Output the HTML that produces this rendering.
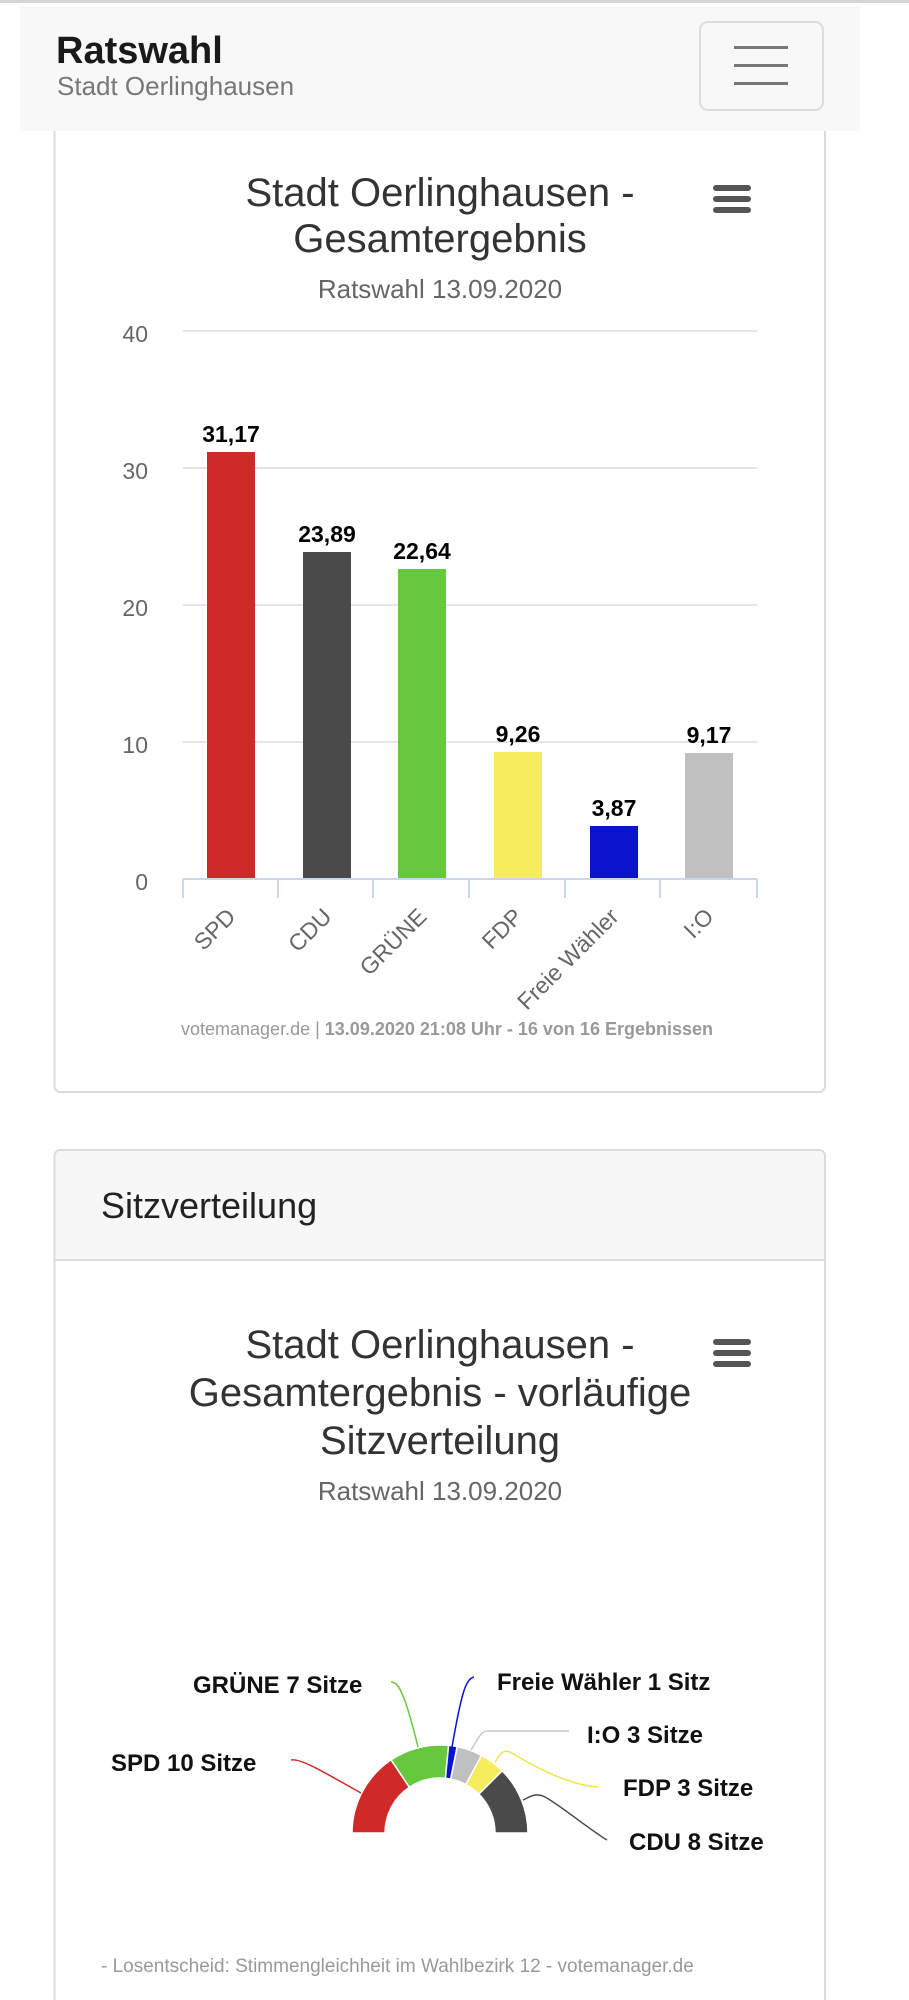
<!DOCTYPE html>
<html><head><meta charset="utf-8"><style>
html,body{margin:0;padding:0;background:#fff;width:909px;height:2000px;overflow:hidden}
svg{display:block;font-family:"Liberation Sans",Arial,sans-serif}
</style></head><body>
<svg width="909" height="2000" viewBox="0 0 909 2000" xmlns="http://www.w3.org/2000/svg">
<rect x="0" y="0" width="909" height="3" fill="#d6d6d6"/>
<!-- card 1 -->
<path d="M54.5 100 V1086 a6 6 0 0 0 6 6 H819 a6 6 0 0 0 6 -6 V100" fill="#fff" stroke="#dcdcdc" stroke-width="2"/>
<!-- header -->
<rect x="20" y="6" width="840" height="125" fill="#f8f8f8"/>
<text x="56" y="63" font-size="38" font-weight="bold" fill="#1a1a1a">Ratswahl</text>
<text x="57" y="95" font-size="26" fill="#777">Stadt Oerlinghausen</text>
<rect x="700" y="22" width="123" height="88" rx="8" fill="none" stroke="#dcdcdc" stroke-width="2"/>
<rect x="734" y="46" width="54" height="3" fill="#777"/>
<rect x="734" y="64" width="54" height="3" fill="#777"/>
<rect x="734" y="82" width="54" height="3" fill="#777"/>

<!-- chart 1 -->
<text x="440" y="206" font-size="40" fill="#333" text-anchor="middle">Stadt Oerlinghausen -</text>
<text x="440" y="252" font-size="40" fill="#333" text-anchor="middle">Gesamtergebnis</text>
<text x="440" y="298" font-size="26" fill="#666" text-anchor="middle">Ratswahl 13.09.2020</text>
<g fill="#555"><rect x="713" y="185" width="38" height="6" rx="3"/><rect x="713" y="196" width="38" height="6" rx="3"/><rect x="713" y="207" width="38" height="6" rx="3"/></g>

<g stroke="#e6e6e6" stroke-width="2">
<line x1="183" y1="331" x2="757" y2="331"/>
<line x1="183" y1="468" x2="757" y2="468"/>
<line x1="183" y1="605" x2="757" y2="605"/>
<line x1="183" y1="742" x2="757" y2="742"/>
</g>
<g font-size="23" fill="#666" text-anchor="end">
<text x="148" y="342">40</text><text x="148" y="479">30</text><text x="148" y="616">20</text><text x="148" y="753">10</text><text x="148" y="890">0</text>
</g>
<rect x="207" y="452" width="48" height="427" fill="#cf2a27"/>
<rect x="303" y="552" width="48" height="327" fill="#4a4a4a"/>
<rect x="398" y="569" width="48" height="310" fill="#66c93d"/>
<rect x="494" y="752" width="48" height="127" fill="#f7ec5b"/>
<rect x="590" y="826" width="48" height="53" fill="#0a14cf"/>
<rect x="685" y="753" width="48" height="126" fill="#c0c0c0"/>
<g stroke="#ccd6eb" stroke-width="2">
<line x1="183" y1="879" x2="757" y2="879"/>
<line x1="183" y1="879" x2="183" y2="898"/><line x1="278" y1="879" x2="278" y2="898"/><line x1="373" y1="879" x2="373" y2="898"/><line x1="469" y1="879" x2="469" y2="898"/><line x1="565" y1="879" x2="565" y2="898"/><line x1="660" y1="879" x2="660" y2="898"/><line x1="757" y1="879" x2="757" y2="898"/>
</g>
<g font-size="23" font-weight="bold" fill="#000" text-anchor="middle">
<text x="231" y="442">31,17</text><text x="327" y="542">23,89</text><text x="422" y="559">22,64</text><text x="518" y="742">9,26</text><text x="614" y="816">3,87</text><text x="709" y="743">9,17</text>
</g>
<g font-size="23" fill="#666" text-anchor="end">
<text transform="translate(237,918) rotate(-45)">SPD</text>
<text transform="translate(333,918) rotate(-45)">CDU</text>
<text transform="translate(428,918) rotate(-45)">GRÜNE</text>
<text transform="translate(524,918) rotate(-45)">FDP</text>
<text transform="translate(620,918) rotate(-45)">Freie Wähler</text>
<text transform="translate(715,918) rotate(-45)">I:O</text>
</g>
<text x="447" y="1035" font-size="18" fill="#999" text-anchor="middle">votemanager.de | <tspan font-weight="bold">13.09.2020 21:08 Uhr - 16 von 16 Ergebnissen</tspan></text>

<!-- card 2 -->
<path d="M54.5 2010 V1156 a6 6 0 0 1 6 -6 H819 a6 6 0 0 1 6 6 V2010" fill="#fff" stroke="#dcdcdc" stroke-width="2"/>
<path d="M55.5 1260 V1156 a5 5 0 0 1 5 -5 H819 a5 5 0 0 1 5 5 V1260 Z" fill="#f7f7f7"/>
<line x1="55" y1="1260" x2="825" y2="1260" stroke="#dcdcdc" stroke-width="2"/>
<text x="101" y="1218" font-size="36" fill="#222">Sitzverteilung</text>

<text x="440" y="1358" font-size="40" fill="#333" text-anchor="middle">Stadt Oerlinghausen -</text>
<text x="440" y="1406" font-size="40" fill="#333" text-anchor="middle">Gesamtergebnis - vorläufige</text>
<text x="440" y="1454" font-size="40" fill="#333" text-anchor="middle">Sitzverteilung</text>
<text x="440" y="1500" font-size="26" fill="#666" text-anchor="middle">Ratswahl 13.09.2020</text>
<g fill="#555"><rect x="713" y="1339" width="38" height="6" rx="3"/><rect x="713" y="1350" width="38" height="6" rx="3"/><rect x="713" y="1361" width="38" height="6" rx="3"/></g>

<g stroke="#fff" stroke-width="1.5" stroke-linejoin="round">
<path d="M352 1833 A88 88 0 0 1 391.1 1759.8 L409.4 1787.3 A55 55 0 0 0 385 1833 Z" fill="#cf2a27"/>
<path d="M391.1 1759.8 A88 88 0 0 1 448.6 1745.4 L445.4 1778.3 A55 55 0 0 0 409.4 1787.3 Z" fill="#66c93d"/>
<path d="M448.6 1745.4 A88 88 0 0 1 457.2 1746.7 L450.7 1779.1 A55 55 0 0 0 445.4 1778.3 Z" fill="#0a14cf"/>
<path d="M457.2 1746.7 A88 88 0 0 1 481.5 1755.4 L465.9 1784.5 A55 55 0 0 0 450.7 1779.1 Z" fill="#c0c0c0"/>
<path d="M481.5 1755.4 A88 88 0 0 1 502.2 1770.8 L478.9 1794.1 A55 55 0 0 0 465.9 1784.5 Z" fill="#f7ec5b"/>
<path d="M502.2 1770.8 A88 88 0 0 1 528 1833 L495 1833 A55 55 0 0 0 478.9 1794.1 Z" fill="#4a4a4a"/>
</g>
<g fill="none" stroke-width="1.5">
<path d="M291 1760 C300 1758 320 1770 361 1793" stroke="#cf2a27"/>
<path d="M391 1682 C398 1682 404 1690 418 1747" stroke="#66c93d"/>
<path d="M474 1677 C466 1679 462 1690 452 1747" stroke="#0a14cf"/>
<path d="M569 1731 L488 1731 C480 1731 478 1740 471 1750" stroke="#c8c8c8"/>
<path d="M598 1787 C570 1785 540 1770 510 1752 C502 1749 500 1755 495 1762" stroke="#f0e44a"/>
<path d="M607 1840 C590 1830 560 1805 545 1797 C535 1792 530 1797 523 1800" stroke="#4a4a4a"/>
</g>
<g font-size="24" font-weight="bold" fill="#111">
<text x="111" y="1771">SPD 10 Sitze</text>
<text x="193" y="1693">GRÜNE 7 Sitze</text>
<text x="497" y="1690">Freie Wähler 1 Sitz</text>
<text x="587" y="1743">I:O 3 Sitze</text>
<text x="623" y="1796">FDP 3 Sitze</text>
<text x="629" y="1850">CDU 8 Sitze</text>
</g>
<text x="101" y="1972" font-size="19" fill="#999">- Losentscheid: Stimmengleichheit im Wahlbezirk 12 - votemanager.de</text>
</svg>
</body></html>
